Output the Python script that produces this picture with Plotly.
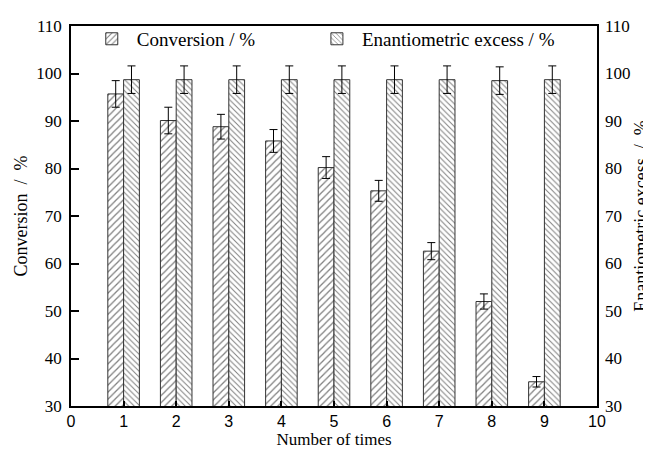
import plotly.graph_objects as go

times = [1, 2, 3, 4, 5, 6, 7, 8, 9]
conversion = [95.7, 90.1, 88.8, 85.8, 80.2, 75.3, 62.6, 52.0, 35.1]
conversion_err = [2.8, 2.8, 2.6, 2.4, 2.3, 2.2, 1.8, 1.6, 1.1]
ee = [98.7, 98.7, 98.7, 98.7, 98.7, 98.7, 98.7, 98.5, 98.7]
ee_err = [2.9, 2.9, 2.9, 2.9, 2.9, 2.9, 2.9, 2.9, 2.9]
x_ticks = [0, 1, 2, 3, 4, 5, 6, 7, 8, 9, 10]
y_ticks = [30, 40, 50, 60, 70, 80, 90, 100, 110]

serif = "Liberation Serif"
sans = "Liberation Sans"

fig = go.Figure()
fig.add_trace(go.Bar(
    x=times, y=conversion, name="Conversion / %", legend="legend",
    marker=dict(color="white", line=dict(color="#333", width=1),
                pattern=dict(shape="/", fgcolor="black", bgcolor="white", size=5, solidity=0.25)),
    error_y=dict(type="data", array=conversion_err, color="black", thickness=1, width=4),
))
fig.add_trace(go.Bar(
    x=times, y=ee, name="Enantiometric excess / %", legend="legend2",
    marker=dict(color="white", line=dict(color="#333", width=1),
                pattern=dict(shape="\\", fgcolor="black", bgcolor="white", size=4, solidity=0.25)),
    error_y=dict(type="data", array=ee_err, color="black", thickness=1, width=4),
))
# invisible trace so the right-hand axis is drawn
fig.add_trace(go.Scatter(x=times, y=ee, yaxis="y2", mode="none", showlegend=False, hoverinfo="skip"))

legend_common = dict(orientation="h", y=0.966, xanchor="left", yanchor="middle",
                     font=dict(family=serif, size=19), itemwidth=40,
                     bgcolor="rgba(0,0,0,0)")

fig.update_layout(
    width=643, height=447,
    margin=dict(l=63, r=54, t=13, b=49),
    paper_bgcolor="white", plot_bgcolor="white",
    barmode="group", bargap=0.4, bargroupgap=0,
    font=dict(family=serif, size=16, color="black"),
    showlegend=True,
    legend=dict(x=0.030, **legend_common),
    legend2=dict(x=0.458, **legend_common),
    xaxis=dict(range=[0, 10], tickvals=x_ticks, ticks="inside", ticklen=5, tickwidth=1.5,
               tickcolor="black", showline=True, linecolor="black", linewidth=1.5,
               mirror=True, showgrid=False, zeroline=False, automargin=False,
               tickfont=dict(family=sans, size=16),
               title=dict(text="Number of times", font=dict(family=serif, size=17), standoff=3)),
    yaxis=dict(range=[30, 110], tickvals=y_ticks, ticks="inside", ticklen=8, tickwidth=1.5,
               tickcolor="black", showline=True, linecolor="black", linewidth=1.5,
               mirror=True, showgrid=False, zeroline=False, automargin=False,
               tickfont=dict(family=serif, size=17), ticklabelstandoff=4,
               title=dict(text="Conversion  /  %", font=dict(family=serif, size=18), standoff=4)),
    yaxis2=dict(range=[30, 110], tickvals=y_ticks, overlaying="y", side="right",
                ticks="", showline=False, showgrid=False, zeroline=False, automargin=False,
                tickfont=dict(family=serif, size=17), ticklabelstandoff=7,
                title=dict(text="Enantiometric excess  /  %", font=dict(family=serif, size=18), standoff=12)),
)

fig.write_html("out.html")
